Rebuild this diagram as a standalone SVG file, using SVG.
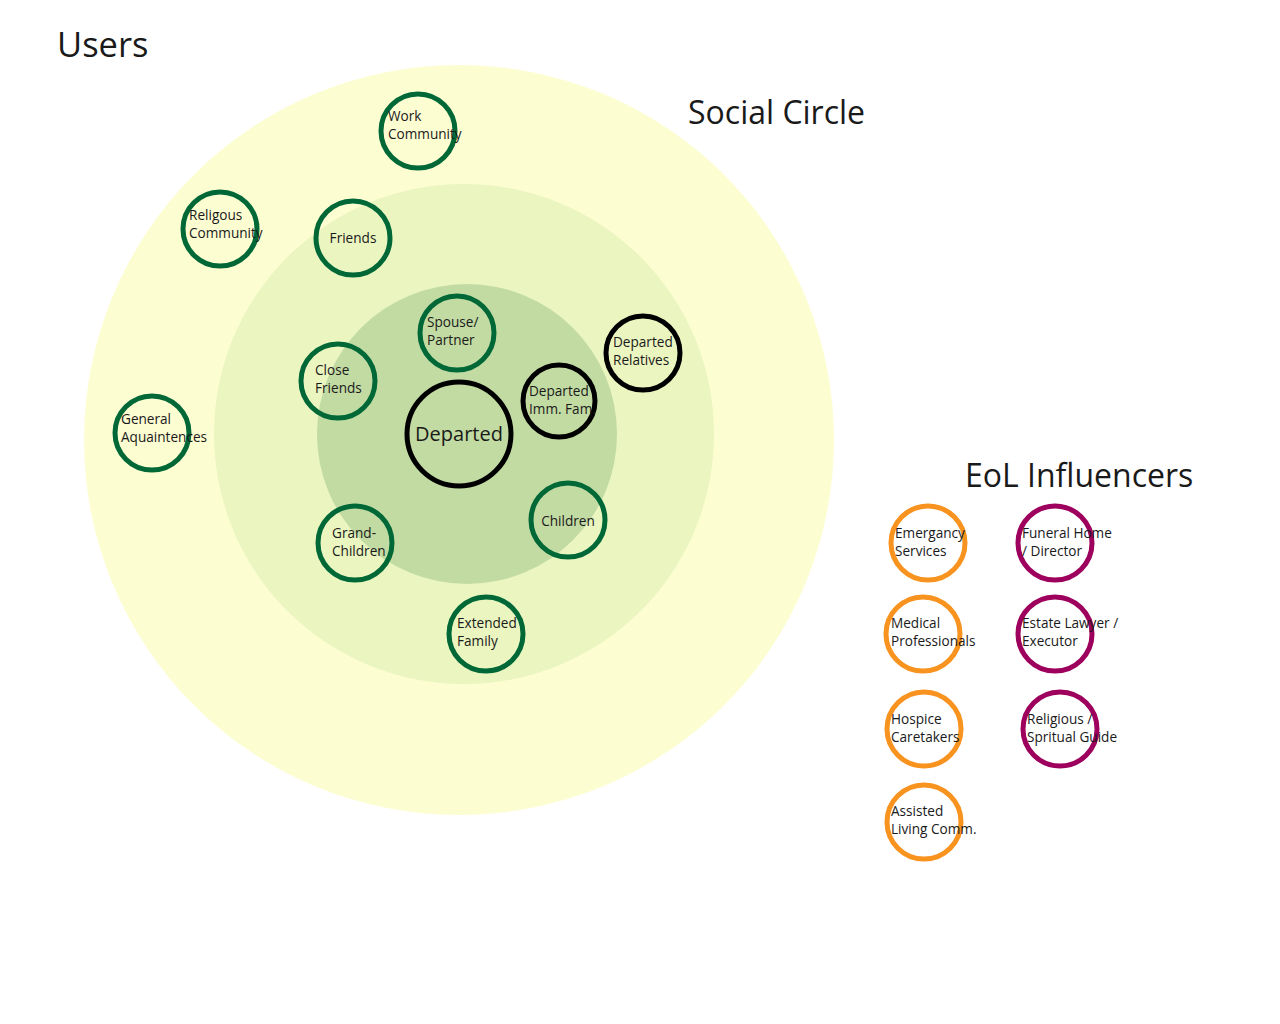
<svg xmlns="http://www.w3.org/2000/svg" width="1280" height="1024" viewBox="0 0 1280 1024">
<style>
text{font-family:"Open Sans","Noto Sans","Liberation Sans",sans-serif;fill:#1a1a1a}
.lbl{font-size:13.6px}
.title{font-size:34.5px}
.node{fill:none;stroke-width:5}
.g{stroke:#006837}
.k{stroke:#000}
.o{stroke:#F7931E}
.p{stroke:#9E005D}
.mid{text-anchor:middle}
</style>
<rect width="1280" height="1024" fill="#fff"/>
<g id="rings">
<circle cx="459" cy="440" r="375" fill="#FDFDD2"/>
<circle cx="464" cy="434" r="250" fill="#EAF5C0"/>
<circle cx="467" cy="434" r="150" fill="#C2DBA2"/>
</g>
<g id="titles">
<text x="57" y="57" class="title">Users</text>
<text x="688" y="124" class="title" style="font-size:32px">Social Circle</text>
<text x="965" y="487" class="title" style="font-size:32px">EoL Influencers</text>
</g>
<g id="connectors"></g>
<g id="work"><circle cx="418" cy="131" r="37" class="node g"/><text class="lbl" x="388" y="121">Work</text><text class="lbl" x="388" y="139">Community</text></g>
<g id="religous"><circle cx="220" cy="229" r="37" class="node g"/><text class="lbl" x="189" y="220">Religous</text><text class="lbl" x="189" y="238">Community</text></g>
<g id="friends"><circle cx="353" cy="238" r="37" class="node g"/><text class="lbl mid" x="353" y="243">Friends</text></g>
<g id="spouse"><circle cx="457" cy="333" r="37" class="node g"/><text class="lbl" x="427" y="327">Spouse/</text><text class="lbl" x="427" y="345">Partner</text></g>
<g id="close"><circle cx="338" cy="381" r="37" class="node g"/><text class="lbl" x="315" y="375">Close</text><text class="lbl" x="315" y="393">Friends</text></g>
<g id="departed"><circle cx="459" cy="434" r="52" class="node k"/><text class="mid" style="font-size:20px" x="459" y="441">Departed</text></g>
<g id="depimm"><circle cx="559" cy="401" r="36" class="node k"/><text class="lbl" x="529" y="396">Departed</text><text class="lbl" x="529" y="414">Imm. Fam.</text></g>
<g id="deprel"><circle cx="643" cy="353" r="37" class="node k"/><text class="lbl" x="613" y="347">Departed</text><text class="lbl" x="613" y="365">Relatives</text></g>
<g id="general"><circle cx="152" cy="433" r="37" class="node g"/><text class="lbl" x="121" y="424">General</text><text class="lbl" x="121" y="442">Aquaintences</text></g>
<g id="grand"><circle cx="355" cy="543" r="37" class="node g"/><text class="lbl" x="332" y="538">Grand-</text><text class="lbl" x="332" y="556">Children</text></g>
<g id="children"><circle cx="568" cy="520" r="37" class="node g"/><text class="lbl mid" x="568" y="526">Children</text></g>
<g id="extended"><circle cx="486" cy="634" r="37" class="node g"/><text class="lbl" x="457" y="628">Extended</text><text class="lbl" x="457" y="646">Family</text></g>
<g id="emergancy"><circle cx="928" cy="543" r="37" class="node o"/><text class="lbl" x="895" y="538">Emergancy</text><text class="lbl" x="895" y="556">Services</text></g>
<g id="medical"><circle cx="923" cy="634" r="37" class="node o"/><text class="lbl" x="891" y="628">Medical</text><text class="lbl" x="891" y="646">Professionals</text></g>
<g id="hospice"><circle cx="924" cy="729" r="37" class="node o"/><text class="lbl" x="891" y="724">Hospice</text><text class="lbl" x="891" y="742">Caretakers</text></g>
<g id="assisted"><circle cx="924" cy="822" r="37" class="node o"/><text class="lbl" x="891" y="816">Assisted</text><text class="lbl" x="891" y="834">Living Comm.</text></g>
<g id="funeral"><circle cx="1055" cy="543" r="37" class="node p"/><text class="lbl" x="1022" y="538">Funeral Home</text><text class="lbl" x="1022" y="556">/ Director</text></g>
<g id="estate"><circle cx="1055" cy="634" r="37" class="node p"/><text class="lbl" x="1022" y="628">Estate Lawyer /</text><text class="lbl" x="1022" y="646">Executor</text></g>
<g id="spiritual"><circle cx="1060" cy="729" r="37" class="node p"/><text class="lbl" x="1027" y="724">Religious /</text><text class="lbl" x="1027" y="742">Spritual Guide</text></g>
</svg>
